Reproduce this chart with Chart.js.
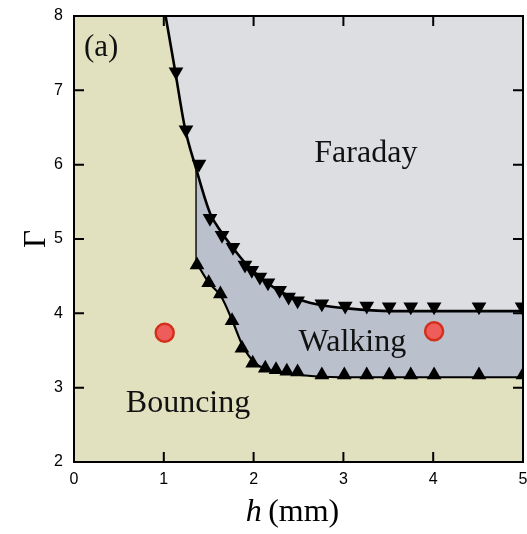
<!DOCTYPE html>
<html>
<head>
<meta charset="utf-8">
<script src="https://cdn.jsdelivr.net/npm/chart.js@4.4.0/dist/chart.umd.min.js"></script>
<style>
  html, body { margin: 0; padding: 0; background: #fff; }
</style>
</head>
<body>
<canvas id="phaseChart" width="527" height="534"></canvas>
<script>
// h in mm, Gamma = forcing acceleration / g

// Faraday threshold (fitted boundary)
const faradayCurveH = [1.02, 1.125, 1.236, 1.359, 1.514, 1.648, 1.77, 1.904, 2.07, 2.29, 2.52, 2.76, 3.02, 3.52, 5.0];
const faradayCurveG = [8.0, 7.27, 6.49, 5.95, 5.35, 5.08, 4.88, 4.68, 4.49, 4.30, 4.18, 4.11, 4.07, 4.03, 4.03];

// walking threshold (fitted boundary)
const walkingCurveH = [1.359, 1.503, 1.637, 1.76, 1.88, 2.0, 2.14, 2.35, 2.52, 2.96, 5.0];
const walkingCurveG = [4.69, 4.41, 4.23, 3.91, 3.56, 3.35, 3.25, 3.20, 3.17, 3.14, 3.14];

// measured Faraday thresholds
const faradayH = [1.136, 1.247, 1.392, 1.514, 1.648, 1.77, 1.904, 1.98, 2.07, 2.16, 2.29, 2.39, 2.49, 2.76, 3.02, 3.26, 3.51, 3.75, 4.01, 4.51, 4.99];
const faradayG = [7.25, 6.47, 6.01, 5.28, 5.05, 4.89, 4.65, 4.58, 4.49, 4.41, 4.31, 4.22, 4.17, 4.13, 4.10, 4.10, 4.09, 4.09, 4.09, 4.09, 4.09];

// measured walking thresholds
const walkingH = [1.37, 1.50, 1.63, 1.76, 1.87, 1.99, 2.13, 2.25, 2.37, 2.49, 2.76, 3.01, 3.26, 3.51, 3.75, 4.01, 4.51, 5.0];
const walkingG = [4.65, 4.41, 4.26, 3.90, 3.53, 3.33, 3.26, 3.24, 3.22, 3.21, 3.17, 3.17, 3.17, 3.17, 3.17, 3.17, 3.17, 3.17];

// left edge of the walking region
const edgeH = [1.359, 1.359];
const edgeG = [5.95, 4.69];

// example operating points
const sampleH = [1.01, 4.01];
const sampleG = [3.74, 3.76];

const xTicks = [0, 1, 2, 3, 4, 5];
const yTicks = [2, 3, 4, 5, 6, 7, 8];

const regionLabels = [
  { text: "Faraday", h: 3.25, g: 6.15 },
  { text: "Walking", h: 3.1, g: 3.6 },
  { text: "Bouncing", h: 1.27, g: 2.78 }
];

const BOUNCING = "#e2e1bf";
const WALKING = "#bac1cd";
const FARADAY = "#dddee1";
const SERIF = '"Liberation Serif", "DejaVu Serif", serif';

function toPoints(xs, ys) {
  return xs.map(function (x, i) {
    return { x: x, y: ys[i] };
  });
}

const decorations = {
  id: "decorations",
  beforeDraw: function (chart) {
    let a = chart.chartArea;
    let ctx = chart.ctx;
    ctx.save();
    ctx.fillStyle = "#fff";
    ctx.fillRect(0, 0, chart.width, chart.height);
    ctx.fillStyle = BOUNCING;
    ctx.fillRect(a.left, a.top, a.right - a.left, a.bottom - a.top);
    ctx.restore();
  },
  afterDatasetsDraw: function (chart) {
    let a = chart.chartArea;
    let ctx = chart.ctx;
    let xs = chart.scales.x;
    let ys = chart.scales.y;
    ctx.save();

    // region names
    ctx.fillStyle = "#111";
    ctx.font = "32px " + SERIF;
    ctx.textAlign = "center";
    ctx.textBaseline = "middle";
    regionLabels.forEach(function (l) {
      ctx.fillText(l.text, xs.getPixelForValue(l.h), ys.getPixelForValue(l.g));
    });
    ctx.font = "31px " + SERIF;
    ctx.textAlign = "left";
    ctx.fillText("(a)", a.left + 10, a.top + 32);

    // frame and inward ticks on all four sides
    ctx.strokeStyle = "#000";
    ctx.lineWidth = 2;
    ctx.strokeRect(a.left, a.top, a.right - a.left, a.bottom - a.top);
    ctx.beginPath();
    xTicks.forEach(function (v) {
      let px = xs.getPixelForValue(v);
      ctx.moveTo(px, a.bottom);
      ctx.lineTo(px, a.bottom - 10);
      ctx.moveTo(px, a.top);
      ctx.lineTo(px, a.top + 10);
    });
    yTicks.forEach(function (v) {
      let py = ys.getPixelForValue(v);
      ctx.moveTo(a.left, py);
      ctx.lineTo(a.left + 10, py);
      ctx.moveTo(a.right, py);
      ctx.lineTo(a.right - 10, py);
    });
    ctx.stroke();

    // axis titles
    ctx.fillStyle = "#000";
    ctx.textBaseline = "alphabetic";
    ctx.textAlign = "left";
    let cx = (a.left + a.right) / 2 - 6;
    ctx.font = "italic 32px " + SERIF;
    let wH = ctx.measureText("h").width;
    ctx.font = "32px " + SERIF;
    let wRest = ctx.measureText("\u2009(mm)").width;
    let x0 = cx - (wH + wRest) / 2;
    ctx.font = "italic 32px " + SERIF;
    ctx.fillText("h", x0, 521);
    ctx.font = "32px " + SERIF;
    ctx.fillText("\u2009(mm)", x0 + wH, 521);

    ctx.translate(37, (a.top + a.bottom) / 2);
    ctx.rotate(-Math.PI / 2);
    ctx.textAlign = "center";
    ctx.textBaseline = "middle";
    ctx.font = "31px " + SERIF;
    ctx.fillText("\u0393", 0, 0);
    ctx.restore();
  }
};

let ctx = document.getElementById("phaseChart").getContext("2d");
let tickFont = { family: '"Liberation Sans", Arial, sans-serif', size: 16 };

let phaseChart = new Chart(ctx, {
  type: "scatter",
  data: {
    datasets: [
      {
        label: "samples",
        data: toPoints(sampleH, sampleG),
        pointStyle: "circle",
        pointRadius: 9,
        pointBackgroundColor: "#ee5d5c",
        pointBorderColor: "#d3301c",
        pointBorderWidth: 2.5,
        showLine: false,
        order: 0
      },
      {
        label: "Faraday threshold",
        data: toPoints(faradayH, faradayG),
        pointStyle: "triangle",
        rotation: 180,
        pointRadius: 8.5,
        pointBackgroundColor: "#000",
        pointBorderColor: "#000",
        pointBorderWidth: 0,
        showLine: false,
        clip: 0,
        order: 1
      },
      {
        label: "walking threshold",
        data: toPoints(walkingH, walkingG),
        pointStyle: "triangle",
        pointRadius: 8.5,
        pointBackgroundColor: "#000",
        pointBorderColor: "#000",
        pointBorderWidth: 0,
        showLine: false,
        clip: 0,
        order: 1
      },
      {
        label: "edge",
        data: toPoints(edgeH, edgeG),
        showLine: true,
        borderColor: "#111",
        borderWidth: 1.5,
        pointRadius: 0,
        fill: false,
        order: 2
      },
      {
        label: "Faraday boundary",
        data: toPoints(faradayCurveH, faradayCurveG),
        showLine: true,
        cubicInterpolationMode: "monotone",
        borderColor: "#000",
        borderWidth: 2.6,
        pointRadius: 0,
        backgroundColor: FARADAY,
        fill: "end",
        order: 3
      },
      {
        label: "walking boundary",
        data: toPoints(walkingCurveH, walkingCurveG),
        showLine: true,
        cubicInterpolationMode: "monotone",
        borderColor: "#000",
        borderWidth: 2.2,
        pointRadius: 0,
        backgroundColor: WALKING,
        fill: "end",
        order: 4
      }
    ]
  },
  options: {
    responsive: false,
    animation: false,
    events: [],
    layout: {
      autoPadding: false,
      padding: { top: 16, right: 4, left: 0, bottom: 0 }
    },
    plugins: {
      legend: { display: false },
      tooltip: { enabled: false }
    },
    scales: {
      x: {
        type: "linear",
        min: 0,
        max: 5,
        afterFit: function (scale) {
          scale.height = 72;
          scale.paddingLeft = 0;
          scale.paddingRight = 0;
        },
        afterBuildTicks: function (scale) {
          scale.ticks = xTicks.map(function (v) { return { value: v }; });
        },
        ticks: { font: tickFont, color: "#000", padding: 8, maxRotation: 0 },
        grid: { display: false, drawTicks: false },
        border: { display: false }
      },
      y: {
        type: "linear",
        min: 2,
        max: 8,
        afterFit: function (scale) {
          scale.width = 74;
          scale.paddingTop = 0;
          scale.paddingBottom = 0;
        },
        afterBuildTicks: function (scale) {
          scale.ticks = yTicks.map(function (v) { return { value: v }; });
        },
        ticks: { font: tickFont, color: "#000", padding: 11 },
        grid: { display: false, drawTicks: false },
        border: { display: false }
      }
    }
  },
  plugins: [decorations]
});
</script>
</body>
</html>
